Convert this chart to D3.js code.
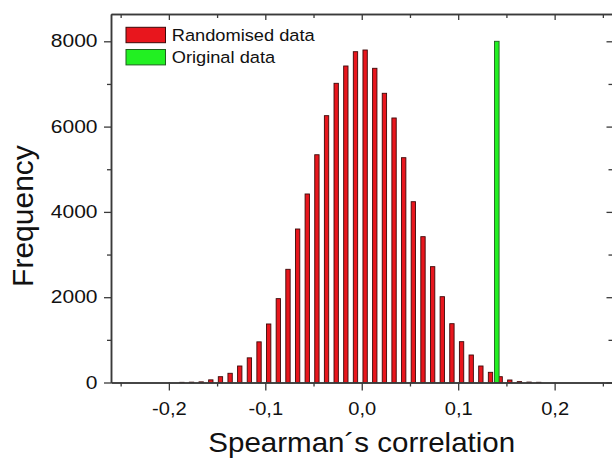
<!DOCTYPE html>
<html>
<head>
<meta charset="utf-8">
<script src="https://cdn.jsdelivr.net/npm/d3@7"></script>
<style>
body { margin: 0; background: #fff; }
svg { display: block; font-family: "Liberation Sans", Arial, sans-serif; }
</style>
</head>
<body>
<svg class="canvas"></svg>
<script>
/*
	Histogram of Spearman's correlation, randomised vs original data
*/

var dwidth = 612;
var dheight = 459;

// bin centres (correlation) and counts of the randomised runs
var binCenters = [-0.1865, -0.1765, -0.1665, -0.1565, -0.1465, -0.1365, -0.1265, -0.1165, -0.1065, -0.0965,
	-0.0865, -0.0765, -0.0665, -0.0565, -0.0465, -0.0365, -0.0265, -0.0165, -0.0065, 0.0035,
	0.0135, 0.0235, 0.0335, 0.0435, 0.0535, 0.0635, 0.0735, 0.0835, 0.0935, 0.1035,
	0.1135, 0.1235, 0.1335, 0.1435, 0.1535, 0.1635, 0.1735, 0.1835];
var randomised = [4, 8, 15, 62, 136, 216, 387, 578, 953, 1372,
	1966, 2654, 3599, 4420, 5340, 6256, 7015, 7421, 7756, 7796,
	7367, 6781, 6202, 5271, 4239, 3419, 2716, 2012, 1379, 957,
	645, 387, 239, 136, 59, 20, 10, 5];
// the real (original) correlation
var originalX = [0.14];
var originalY = [8000];

var legendLabels = ["Randomised data", "Original data"];
var xMajor = [-0.2, -0.1, 0.0, 0.1, 0.2];
var xMinor = [-0.25, -0.15, -0.05, 0.05, 0.15, 0.25];
var yMajor = [0, 2000, 4000, 6000, 8000];
var yMinor = [1000, 3000, 5000, 7000];

var redFill = "#e8161d", redLine = "#3d0808";
var greenFill = "#22f022", greenLine = "#1f5f1f";
var axCol = "#3a3a3a";

var canv = d3.select(".canvas").attr("width", dwidth).attr("height", dheight);

// Scales
var sx = d3.scaleLinear().domain([-0.26, 0.26]).range([111, 612.5]);
var sy = d3.scaleLinear().domain([0, 8640]).range([382.5, 14]);
var binW = 0.0045;

var fmt = function(d) { return d3.format(".1f")(d).replace("\u2212", "-").replace(".", ","); };

// Bars - randomised
canv.append("g").selectAll("rect")
	.data(binCenters.map(function(c, i) { return {x: c, y: randomised[i]}; }))
	.enter().append("rect")
	.attr("x", function(d) { return sx(d.x - binW / 2); })
	.attr("width", function(d) { return sx(d.x + binW / 2) - sx(d.x - binW / 2); })
	.attr("y", function(d) { return sy(d.y); })
	.attr("height", function(d) { return sy(0) - sy(d.y); })
	.style("fill", redFill).style("stroke", redLine).style("stroke-width", 0.9);

// Bar - original
canv.append("g").selectAll("rect")
	.data(originalX.map(function(c, i) { return {x: c, y: originalY[i]}; }))
	.enter().append("rect")
	.attr("x", function(d) { return sx(d.x - 0.0024); })
	.attr("width", function(d) { return sx(d.x + 0.0024) - sx(d.x - 0.0024); })
	.attr("y", function(d) { return sy(d.y); })
	.attr("height", function(d) { return sy(0) - sy(d.y); })
	.style("fill", greenFill).style("stroke", greenLine).style("stroke-width", 0.9);

/*

Axes: bottom/left ticks out, top/right mirrors ticks in

*/
function styleAxis(g) {
	g.selectAll("path").style("stroke", axCol).style("stroke-width", 1.5);
	g.selectAll("line").style("stroke", axCol).style("stroke-width", 1.3);
}

var xb = canv.append("g").attr("transform", "translate(0," + sy(0) + ")")
	.call(d3.axisBottom(sx).tickValues(xMajor).tickSize(8).tickSizeOuter(0).tickFormat(fmt));
canv.append("g").attr("transform", "translate(0," + sy(0) + ")")
	.call(d3.axisBottom(sx).tickValues(xMinor).tickSize(4).tickSizeOuter(0).tickFormat(""))
	.call(styleAxis);
xb.call(styleAxis);
xb.selectAll("text")
	.attr("y", 0).attr("dy", 0)
	.attr("transform", "translate(0,32.5) scale(1.06,1)")
	.style("font-size", "19px").style("fill", "#111");

var xt = canv.append("g").attr("transform", "translate(0," + sy(8640) + ")")
	.call(d3.axisBottom(sx).tickValues(xMajor).tickSize(6).tickSizeOuter(0).tickFormat(""));
canv.append("g").attr("transform", "translate(0," + sy(8640) + ")")
	.call(d3.axisBottom(sx).tickValues(xMinor).tickSize(4).tickSizeOuter(0).tickFormat(""))
	.call(styleAxis);
xt.call(styleAxis);

var yl = canv.append("g").attr("transform", "translate(" + sx(-0.26) + ",0)")
	.call(d3.axisLeft(sy).tickValues(yMajor).tickSize(7).tickSizeOuter(0).tickFormat(d3.format("d")));
canv.append("g").attr("transform", "translate(" + sx(-0.26) + ",0)")
	.call(d3.axisLeft(sy).tickValues(yMinor).tickSize(4).tickSizeOuter(0).tickFormat(""))
	.call(styleAxis);
yl.call(styleAxis);
yl.selectAll("text")
	.attr("x", 0)
	.attr("transform", "translate(-13.5,0) scale(1.2,1)")
	.style("font-size", "17.5px").style("fill", "#111");

// right mirror axis sits just past the picture edge, only its ticks show
var rx = sx(0.26) + 1;
var yr = canv.append("g").attr("transform", "translate(" + rx + ",0)")
	.call(d3.axisLeft(sy).tickValues(yMajor).tickSize(7).tickSizeOuter(0).tickFormat(""));
canv.append("g").attr("transform", "translate(" + rx + ",0)")
	.call(d3.axisLeft(sy).tickValues(yMinor).tickSize(5).tickSizeOuter(0).tickFormat(""))
	.call(styleAxis);
yr.call(styleAxis);

// Axis titles
canv.append("text")
	.attr("transform", "translate(" + sx(0) + ",451.7) scale(1.094,1)")
	.style("text-anchor", "middle").style("font-size", "27px").style("fill", "#111")
	.text("Spearman\u00b4s correlation");
canv.append("text")
	.attr("transform", "translate(33,216) rotate(-90)")
	.style("text-anchor", "middle").style("font-size", "30px").style("fill", "#111")
	.text("Frequency");

// Legend
var leg = canv.append("g").attr("transform", "translate(126,27.3)");
var legCols = [[redFill, redLine], [greenFill, greenLine]];
legendLabels.forEach(function(lab, i) {
	leg.append("rect")
		.attr("x", 0).attr("y", i * 22.2)
		.attr("width", 39.5).attr("height", 15.4)
		.style("fill", legCols[i][0]).style("stroke", legCols[i][1]).style("stroke-width", 1);
	leg.append("text")
		.attr("transform", "translate(45.7," + (13.4 + i * 22.4) + ") scale(1.12,1)")
		.style("font-size", "16.3px").style("fill", "#111")
		.text(lab);
});
</script>
</body>
</html>
